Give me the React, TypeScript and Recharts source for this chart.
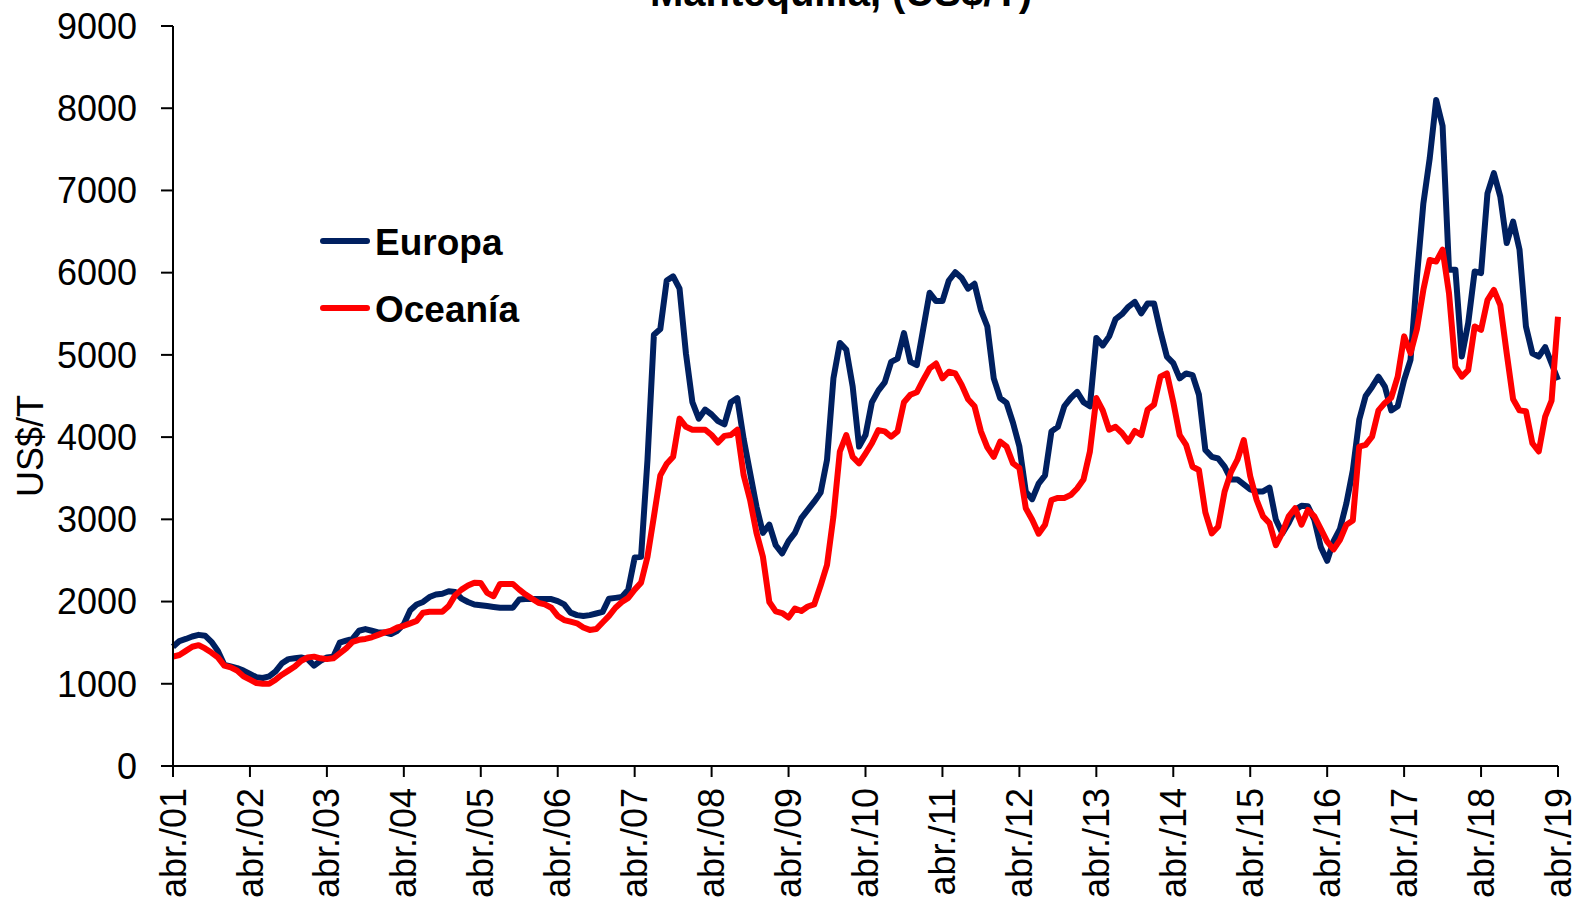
import React from 'react';
import { LineChart, Line, XAxis, YAxis, Legend, Customized } from 'recharts';

// Precio mensual de la mantequilla, abr./01 - abr./19 (US$/T)
const MONTHS = ['abr.', 'may.', 'jun.', 'jul.', 'ago.', 'sep.', 'oct.', 'nov.', 'dic.', 'ene.', 'feb.', 'mar.'];

const europa = [
  1450, 1520, 1545, 1575, 1595, 1585, 1510, 1400, 1230, 1210, 1190, 1160,
  1120, 1080, 1070, 1090, 1150, 1250, 1300, 1310, 1320, 1300, 1220, 1280,
  1320, 1330, 1500, 1525, 1545, 1645, 1665, 1645, 1625, 1625, 1605, 1645,
  1725, 1895, 1965, 1995, 2055, 2085, 2095, 2125, 2115, 2035, 1995, 1965,
  1955, 1945, 1935, 1925, 1925, 1925, 2025, 2030, 2030, 2030, 2030, 2030,
  2005, 1965, 1865, 1835, 1825, 1835, 1855, 1875, 2035, 2045, 2055, 2145,
  2535, 2545, 3725, 5245, 5315, 5905, 5955, 5805, 5015, 4425, 4225, 4335,
  4275, 4195, 4155, 4425, 4475, 3975, 3565, 3155, 2835, 2935, 2685, 2585,
  2735, 2835, 3015, 3115, 3215, 3325, 3725, 4715, 5145, 5065, 4615, 3885,
  4025, 4425, 4565, 4665, 4915, 4955, 5265, 4915, 4875, 5315, 5755,
  5655, 5655, 5905, 6005, 5935, 5805, 5865, 5545, 5345, 4715, 4475, 4415,
  4175, 3885, 3335, 3245, 3435, 3535, 4070, 4125, 4375, 4475, 4550, 4425,
  4375, 5205, 5115, 5225, 5435, 5495, 5585, 5645, 5505, 5625, 5625, 5285,
  4980, 4900, 4715, 4775, 4755, 4515, 3845, 3760, 3740, 3640, 3485, 3485,
  3425, 3365, 3340, 3340, 3385, 2995, 2830, 2955, 3115, 3165, 3160, 2995,
  2665, 2495, 2735, 2885, 3195, 3595, 4210, 4500, 4610, 4735, 4615, 4325,
  4375, 4695, 4940, 5950, 6840, 7395, 8100, 7785, 6035, 6035, 4980, 5390,
  6015, 5995, 6965, 7210, 6925, 6360, 6620, 6280, 5345, 5020, 4980, 5095,
  4895, 4695,
];

const oceania = [
  1330, 1350, 1400, 1450, 1470, 1430, 1380, 1320, 1220, 1200, 1160, 1090,
  1050, 1010, 1000, 1000, 1050, 1110, 1160, 1210, 1280, 1320, 1330, 1310,
  1300, 1310, 1370, 1430, 1510, 1535, 1545, 1565, 1595, 1625, 1645, 1685,
  1705, 1735, 1765, 1865, 1875, 1875, 1875, 1945, 2075, 2145, 2195, 2230,
  2225, 2105, 2065, 2215, 2215, 2215, 2145, 2085, 2035, 1985, 1965, 1925,
  1825, 1775, 1755, 1735, 1685, 1655, 1665, 1745, 1825, 1925, 1995, 2045,
  2145, 2230, 2545, 3035, 3535, 3675, 3760, 4225, 4125, 4090, 4090, 4090,
  4025, 3935, 4015, 4025, 4090, 3535, 3235, 2835, 2545, 1995, 1880, 1860,
  1805, 1915, 1885, 1940, 1965, 2195, 2445, 3035, 3825, 4025, 3760, 3680,
  3800, 3925, 4085, 4070, 4005, 4070, 4425, 4515, 4545, 4695, 4835,
  4895, 4715, 4795, 4775, 4635, 4460, 4375, 4070, 3875, 3760, 3945, 3885,
  3680, 3625, 3135, 2995, 2825, 2935, 3235, 3260, 3260, 3295, 3375, 3485,
  3825, 4475, 4325, 4090, 4125, 4050, 3945, 4075, 4025, 4335, 4395, 4735,
  4775, 4425, 4025, 3905, 3640, 3600, 3085, 2830, 2910, 3335, 3575, 3725,
  3965, 3525, 3235, 3035, 2955, 2685, 2835, 3035, 3135, 2935, 3115, 3035,
  2885, 2730, 2635, 2750, 2935, 2985, 3885, 3905, 4005, 4325, 4415, 4480,
  4735, 5225, 5020, 5315, 5790, 6155, 6135, 6280, 5750, 4855, 4735, 4815,
  5345, 5305, 5665, 5790, 5605, 5020, 4460, 4325, 4315, 3925, 3825, 4250,
  4445, 5465,
];

const yTicks = [0, 1000, 2000, 3000, 4000, 5000, 6000, 7000, 8000, 9000];

const FONT = '"Liberation Sans", Arial, Helvetica, sans-serif';

const data = europa.map((v, i) => {
  const year = 1 + Math.floor((i + 3) / 12);
  return {
    label: `${MONTHS[i % 12]}/${String(year).padStart(2, '0')}`,
    europa: v,
    oceania: oceania[i],
  };
});

const XTick = (props: any) => {
  const { x, y, payload } = props;
  return (
    <text
      x={x}
      y={y}
      transform={`rotate(-90 ${x} ${y})`}
      textAnchor="end"
      dx={-9}
      dy="0.35em"
      fontSize={36}
      fontFamily={FONT}
      fill="#000"
    >
      {payload.value}
    </text>
  );
};

// the title sits mostly above the picture, only its lower edge shows
const Title = () => (
  <text x={841} y={6} textAnchor="middle" fontSize={40} fontWeight="bold" fontFamily={FONT} fill="#000">
    Mantequilla, (US$/T)
  </text>
);

const LegendBox = () => (
  <svg width={240} height={130} style={{ display: 'block', overflow: 'visible' }}>
    <line x1={5} y1={31} x2={49} y2={31} stroke="#002060" strokeWidth={6} strokeLinecap="round" />
    <text x={57} y={45} fontSize={37} fontWeight="bold" fontFamily={FONT} fill="#000">Europa</text>
    <line x1={5} y1={98} x2={49} y2={98} stroke="#FF0000" strokeWidth={6} strokeLinecap="round" />
    <text x={57} y={112} fontSize={37} fontWeight="bold" fontFamily={FONT} fill="#000">Oceanía</text>
  </svg>
);

const App = () => {
  return (
    <div style={{ position: 'absolute', left: 0, top: 0, background: '#fff' }}>
      <LineChart width={1578} height={912} data={data} margin={{ top: 26, right: 20, left: 0, bottom: 0 }}>
        <XAxis
          dataKey="label"
          interval={11}
          height={146}
          tick={<XTick />}
          tickSize={11}
          axisLine={{ stroke: '#000', strokeWidth: 2 }}
          tickLine={{ stroke: '#000', strokeWidth: 2 }}
        />
        <YAxis
          type="number"
          domain={[0, 9000]}
          ticks={yTicks}
          width={173}
          tickSize={12}
          tickMargin={24}
          tick={{ fontSize: 36, fill: '#000', fontFamily: FONT }}
          axisLine={{ stroke: '#000', strokeWidth: 2 }}
          tickLine={{ stroke: '#000', strokeWidth: 2 }}
          label={{
            value: 'US$/T',
            content: () => (
              <text
                x={30}
                y={446}
                transform="rotate(-90 30 446)"
                textAnchor="middle"
                dy="0.35em"
                fontSize={36}
                fontFamily={FONT}
                fill="#000"
              >
                US$/T
              </text>
            ),
          }}
        />
        <Legend
          layout="vertical"
          align="center"
          verticalAlign="middle"
          content={<LegendBox />}
          wrapperStyle={{ left: 318, top: 210, width: 240 }}
        />
        <Line
          type="linear"
          dataKey="europa"
          name="Europa"
          stroke="#002060"
          strokeWidth={6}
          strokeLinejoin="round"
          dot={false}
          isAnimationActive={false}
        />
        <Line
          type="linear"
          dataKey="oceania"
          name="Oceanía"
          stroke="#FF0000"
          strokeWidth={6}
          strokeLinejoin="round"
          dot={false}
          isAnimationActive={false}
        />
        <Customized component={<Title />} />
      </LineChart>
    </div>
  );
};

export default App;
